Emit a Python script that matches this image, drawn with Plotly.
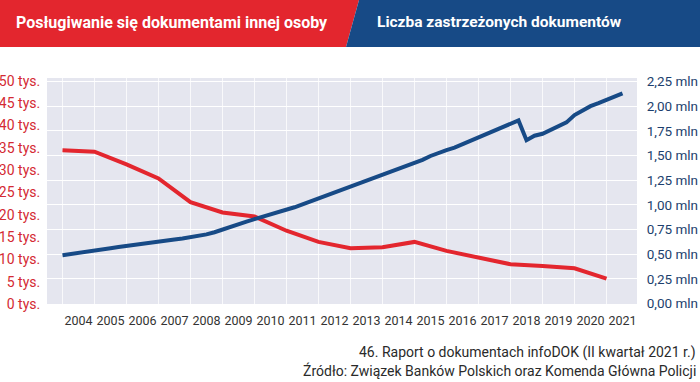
import plotly.graph_objects as go

# ---- data ----
red_years = list(range(2004, 2022))
red_values = [34400, 34100, 31250, 28100, 22800, 20500, 19600, 16400, 13900,
              12500, 12700, 13900, 11900, 10500, 8900, 8500, 8000, 5700]

blue_quarters = [2004.0 + 0.25 * i for i in range(71)]  # 2004 Q1 ... 2021 Q3 start
blue_values = [0.490, 0.500, 0.510, 0.525, 0.538, 0.550, 0.560, 0.573,
               0.585, 0.596, 0.607, 0.618, 0.629, 0.638, 0.648, 0.658,
               0.669, 0.683, 0.700, 0.722, 0.750, 0.780, 0.810, 0.830,
               0.855, 0.878, 0.902, 0.925, 0.949, 0.975, 1.005, 1.035,
               1.067, 1.095, 1.125, 1.160, 1.190, 1.215, 1.245, 1.275,
               1.300, 1.330, 1.360, 1.390, 1.420, 1.455, 1.495, 1.530,
               1.555, 1.580, 1.615, 1.650, 1.685, 1.715, 1.750, 1.785,
               1.820, 1.855, 1.655, 1.700, 1.720, 1.755, 1.790, 1.835,
               1.910, 1.960, 2.000, 2.030, 2.065, 2.095, 2.130]
blue_values = [v * 1e6 for v in blue_values]

year_labels = [str(y) for y in range(2004, 2022)]
left_tickvals = list(range(0, 50001, 5000))
left_ticktext = [f"{v // 1000} tys." for v in left_tickvals]
right_tickvals = [i * 250000 for i in range(10)]
right_ticktext = [f"{v / 1e6:.2f}".replace(".", ",") + " mln" for v in right_tickvals]

title_left = "Posługiwanie się dokumentami innej osoby"
title_right = "Liczba zastrzeżonych dokumentów"
footer1 = "46. Raport o dokumentach infoDOK (II kwartał 2021 r.)"
footer2 = "Źródło: Związek Banków Polskich oraz Komenda Główna Policji"

# ---- layout geometry ----
W, H = 700, 382
L, R, T, B = 47, 637, 78, 304
RED = "#e3262e"
BLUE = "#174a86"
FONT = "Roboto, Liberation Sans, sans-serif"


def px(x):
    return (x - L) / (R - L)


def py(y):
    return (B - y) / (B - T)


fig = go.Figure()
fig.add_trace(go.Scatter(x=red_years, y=red_values, mode="lines",
                         line=dict(color=RED, width=4), yaxis="y",
                         hoverinfo="skip", showlegend=False))
fig.add_trace(go.Scatter(x=blue_quarters, y=blue_values, mode="lines",
                         line=dict(color=BLUE, width=4), yaxis="y2",
                         hoverinfo="skip", showlegend=False))

shapes = [
    dict(type="path", xref="paper", yref="paper",
         path=f"M {px(0)},{py(0)} L {px(359)},{py(0)} L {px(346)},{py(47)} L {px(0)},{py(47)} Z",
         fillcolor=RED, line=dict(width=0), layer="below"),
    dict(type="path", xref="paper", yref="paper",
         path=f"M {px(359)},{py(0)} L {px(700)},{py(0)} L {px(700)},{py(47)} L {px(346)},{py(47)} Z",
         fillcolor=BLUE, line=dict(width=0), layer="below"),
]

annotations = [
    dict(text=f"<b>{title_left}</b>", xref="paper", yref="paper", x=px(14), y=py(22),
         xanchor="left", yanchor="middle", showarrow=False,
         font=dict(family=FONT, size=16, color="white")),
    dict(text=f"<b>{title_right}</b>", xref="paper", yref="paper", x=px(375), y=py(22),
         xanchor="left", yanchor="middle", showarrow=False,
         font=dict(family=FONT, size=15.5, color="white")),
    dict(text=footer1, xref="paper", yref="paper", x=px(698), y=py(352),
         xanchor="right", yanchor="middle", showarrow=False,
         font=dict(family=FONT, size=14, color="#2a2a2a")),
    dict(text=footer2, xref="paper", yref="paper", x=px(698), y=py(370),
         xanchor="right", yanchor="middle", showarrow=False,
         font=dict(family=FONT, size=14, color="#2a2a2a")),
]

fig.update_layout(
    width=W, height=H, autosize=False,
    margin=dict(l=L, r=W - R, t=T, b=H - B, pad=0, autoexpand=False),
    paper_bgcolor="white", plot_bgcolor="#e5e6ef",
    showlegend=False,
    shapes=shapes, annotations=annotations,
    xaxis=dict(range=[2003.516, 2021.953], tickmode="array", automargin=False,
               tickvals=[y + 0.5 for y in range(2004, 2022)], ticktext=year_labels,
               tickangle=0,
               showgrid=False, zeroline=False, showline=False,
               ticks="outside", ticklen=5, tickcolor="rgba(0,0,0,0)",
               tickfont=dict(family=FONT, size=12.5, color="#333333"),
               minor=dict(tickmode="array", tickvals=list(range(2004, 2022)),
                          showgrid=True, gridcolor="rgba(255,255,255,0.75)", gridwidth=1,
                          ticks="")),
    yaxis=dict(range=[0, 50600], tickmode="array", tickvals=left_tickvals, automargin=False,
               ticktext=left_ticktext, showgrid=False, zeroline=False, showline=False,
               ticks="outside", ticklen=3, tickcolor="rgba(0,0,0,0)",
               tickfont=dict(family=FONT, size=14, color="#d42a33")),
    yaxis2=dict(range=[-5000, 2285000], overlaying="y", side="right", automargin=False,
                tickmode="array", tickvals=right_tickvals, ticktext=right_ticktext,
                showgrid=True, gridcolor="white", gridwidth=1.2,
                zeroline=False, showline=False,
                ticks="outside", ticklen=6, tickcolor="rgba(0,0,0,0)",
                tickfont=dict(family=FONT, size=13.5, color="#1d3f6e")),
)

fig.write_html("out.html", config={"displayModeBar": False},
               post_script="document.body.style.margin='0';document.body.style.overflow='hidden';")
